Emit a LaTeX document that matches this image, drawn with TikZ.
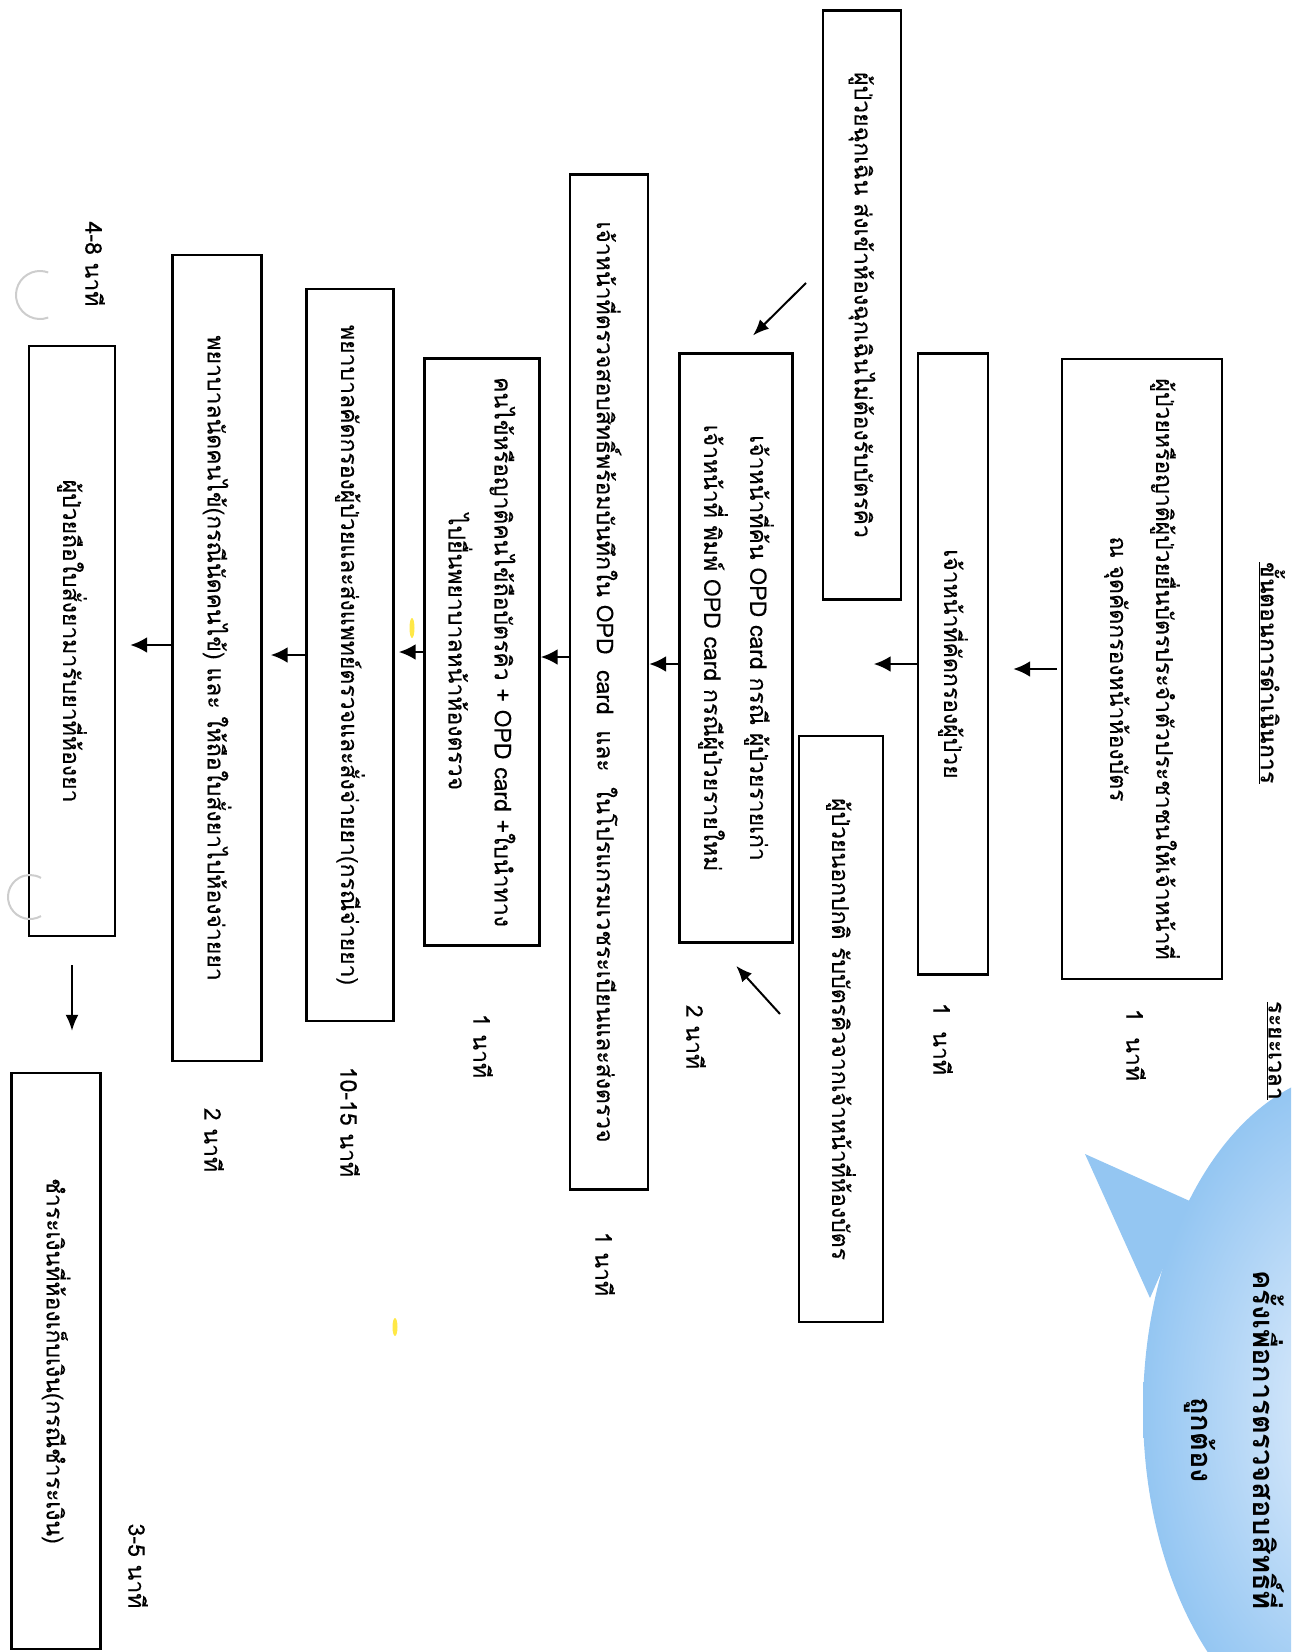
\documentclass[tikz,border=0pt]{standalone}
\usepackage{fontspec}
\setmainfont{Loma}[Script=Thai, UprightFeatures={FakeBold=0.3}]
\usetikzlibrary{arrows.meta}

\definecolor{bubin}{RGB}{232,241,253}
\definecolor{bubout}{RGB}{148,198,242}
\definecolor{punch}{RGB}{205,205,205}
\definecolor{speck}{RGB}{255,232,70}

\tikzset{
  box/.style={draw, line width=2.4pt, rotate=-90, inner sep=0pt, align=center,
    font=\fontsize{23}{46}\selectfont},
  tm/.style={rotate=-90, inner sep=0pt, font=\fontsize{23}{30}\selectfont},
  hd/.style={rotate=-90, inner sep=0pt, font=\bfseries\fontsize{23}{30}\selectfont},
  arr/.style={-{Latex[length=17pt,width=16pt]}, line width=2.6pt},
  diag/.style={-{Latex[length=16pt,width=13pt]}, line width=2pt},
}

\begin{document}
\begin{tikzpicture}[x=1pt,y=-1pt]
  \useasboundingbox (0,0) rectangle (1291,1652);

  % speech bubble
  \begin{scope}
    \clip (0,0) rectangle (1291,1652);
    \fill[bubout] (1085,1154) -- (1192,1202) -- (1150,1298) -- cycle;
    \shade[inner color=bubin, outer color=bubout] (1360,1410) ellipse [x radius=217, y radius=340];
    \node[rotate=-90, align=center, inner sep=0pt,
      font=\bfseries\fontsize{29}{62}\selectfont] (bub) at (1234,1440)
      {ครั้งเพื่อการตรวจสอบสิทธิ์ที่\\ถูกต้อง};
  \end{scope}

  % headings
  \node[hd] (head) at (1272,673) {\underline{ขั้นตอนการดำเนินการ}};
  \node[hd] (time) at (1274,1051) {\underline{ระยะเวลา}};

  % steps
  \node[box, minimum width=620pt, minimum height=160pt] (B1) at (1142,669)
    {ผู้ป่วยหรือญาติผู้ป่วยยื่นบัตรประจำตัวประชาชนให้เจ้าหน้าที่\\ณ จุดคัดกรองหน้าห้องบัตร};
  \node[box, minimum width=621pt, minimum height=70pt] (B2) at (953,664)
    {เจ้าหน้าที่คัดกรองผู้ป่วย};
  \node[box, minimum width=589pt, minimum height=78pt] (E) at (862,305)
    {ผู้ป่วยฉุกเฉิน ส่งเข้าห้องฉุกเฉินไม่ต้องรับบัตรคิว};
  \node[box, minimum width=586pt, minimum height=84pt] (B3) at (841,1029)
    {ผู้ป่วยนอกปกติ รับบัตรคิวจากเจ้าหน้าที่ห้องบัตร};
  \node[box, minimum width=589pt, minimum height=113pt] (B4) at (736,648)
    {เจ้าหน้าที่ค้น OPD card กรณี ผู้ป่วยรายเก่า\\เจ้าหน้าที่ พิมพ์ OPD card กรณีผู้ป่วยรายใหม่};
  \node[box, minimum width=1015pt, minimum height=78pt] (B5) at (609,682)
    {เจ้าหน้าที่ตรวจสอบสิทธิ์พร้อมบันทึกใน OPD\ \ card\ \ และ\ \ ในโปรแกรมเวชระเบียนและส่งตรวจ};
  \node[box, minimum width=587pt, minimum height=115pt] (B6) at (482,652)
    {คนไข้หรือญาติคนไข้ถือบัตรคิว + OPD card +ใบนำทาง\\ไปยื่นพยาบาลหน้าห้องตรวจ};
  \node[box, minimum width=732pt, minimum height=87pt] (B7) at (350,655)
    {พยาบาลคัดกรองผู้ป่วยและส่งแพทย์ตรวจและสั่งจ่ายยา(กรณีจ่ายยา)};
  \node[box, minimum width=806pt, minimum height=89pt] (B8) at (217,658)
    {พยาบาลนัดคนไข้(กรณีนัดคนไข้) และ ให้ถือใบสั่งยาไปห้องจ่ายยา};
  \node[box, minimum width=590pt, minimum height=86pt] (B9) at (72,641)
    {ผู้ป่วยถือใบสั่งยามารับยาที่ห้องยา};
  \node[box, minimum width=576pt, minimum height=89pt] (B10) at (56,1361)
    {ชำระเงินที่ห้องเก็บเงิน(กรณีชำระเงิน)};

  % times
  \foreach \i/\x/\y/\t in {1/1136/1045/1\ \ นาที, 2/943/1039/1\ \ นาที, 3/696/1037/2 นาที,
      4/605/1264/1 นาที, 5/483/1046/1 นาที, 6/350/1122/10-15 นาที,
      7/214/1140/2 นาที, 8/95/264/4-8 นาที, 9/138/1566/3-5 นาที}
    \node[tm] (t\i) at (\x,\y) {\t};

  % flow
  \draw[arr, shorten <=4pt, shorten >=24pt] (B1.south) -- (B1.south -| B2.north);
  \draw[arr, shorten >=80pt] (B2.south) -- (B2.south -| B4.north);
  \draw[arr] ([yshift=-16pt]B4.south) -- ([yshift=-16pt]B4.south -| B5.north);
  \draw[arr] ([yshift=25pt]B5.south) -- ([yshift=25pt]B5.south -| B6.north);
  \draw[arr, shorten >=4pt] (B6.south) -- (B6.south -| B7.north);
  \draw[arr, shorten >=8pt] (B7.south) -- (B7.south -| B8.north);
  \draw[arr, shorten >=14pt] ([yshift=13pt]B8.south) -- ([yshift=13pt]B8.south -| B9.north);
  \draw[diag, shorten <=28pt, shorten >=41pt] (B9.east) -- (B9.east |- B10.west);

  \coordinate (e1) at (806,283);
  \coordinate (b1) at (780,1014);
  \draw[diag, shorten >=24pt] (e1) -- (B4.west);
  \draw[diag, shorten >=30pt] (b1) -- ([xshift=-20pt]B4.east);

  % punch holes and specks
  \draw[punch, line width=2pt] (40,295) ++(70:24) arc[start angle=70, end angle=290, radius=24];
  \draw[punch, line width=2pt] (30,897) ++(60:22) arc[start angle=60, end angle=300, radius=22];
  \fill[speck] (412,628) ellipse [x radius=2.5, y radius=10];
  \fill[speck] (395,1327) ellipse [x radius=2.5, y radius=9];
\end{tikzpicture}
\end{document}
